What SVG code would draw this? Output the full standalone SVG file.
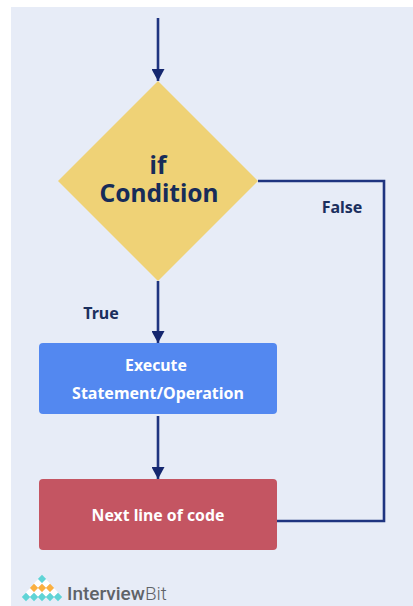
<svg xmlns="http://www.w3.org/2000/svg" width="413" height="606" viewBox="0 0 413 606">
<style>
text{font-family:"Noto Sans","Open Sans",sans-serif;font-weight:700;text-anchor:middle}
.w{fill:#fff;font-size:15.8px}.l{fill:#1b2f5e;font-size:16px}
.m{fill:#172c59;font-size:24.500px}
.c{fill:none;stroke:#1f3480;stroke-width:2.6}
.t{fill:#5fd4d6}.o{fill:#fbb040}.e{fill:#fff}
.b{fill:#5f6368;font-size:19px;text-anchor:start;font-family:Roboto,"Noto Sans",sans-serif;font-weight:500}
</style>
<defs>
<marker id="a" markerUnits="userSpaceOnUse" markerWidth="12" markerHeight="13" refX="12" refY="6.500" orient="auto"><path d="M0 0L12 6.500L0 13Z" fill="#15276f"/></marker>
<path id="p" d="M0-4.200L4.200 0L0 4.200L-4.200 0Z"/>
</defs>
<rect x="11" y="7" width="402" height="599" fill="#e7ecf7"/>
<g id="connectors">
<path class="c" d="M158 18V81" marker-end="url(#a)"/>
<path class="c" d="M158 281V343" marker-end="url(#a)"/>
<path class="c" d="M158 416V479" marker-end="url(#a)"/>
<path class="c" d="M258 181H384V521H277"/>
</g>
<g id="decision"><path d="M158 81L258 181L158 281L58 181Z" fill="#efd276"/>
<text class="m" x="158" y="174">if</text>
<text class="m" x="159" y="202">Condition</text></g>
<g id="execute"><rect x="39" y="343" width="238" height="71" rx="4" fill="#5388f0"/>
<text class="w" x="156" y="371">Execute</text>
<text class="w" x="158" y="399" style="font-size:16px">Statement/Operation</text></g>
<g id="next"><rect x="39" y="479" width="238" height="71" rx="4" fill="#c45562"/>
<text class="w" x="158" y="521">Next line of code</text></g>
<g id="label-true"><text class="l" x="101" y="319">True</text></g>
<g id="label-false"><text class="l" x="342" y="213">False</text></g>
<g id="logo">
<use href="#p" class="t" x="42" y="579"/>
<use href="#p" class="e" x="38" y="583.500"/><use href="#p" class="e" x="46" y="583.500"/>
<use href="#p" class="o" x="34" y="588"/><use href="#p" class="o" x="42" y="588"/><use href="#p" class="o" x="50" y="588"/>
<use href="#p" class="e" x="30" y="592.500"/><use href="#p" class="e" x="38" y="592.500"/><use href="#p" class="e" x="46" y="592.500"/><use href="#p" class="e" x="54" y="592.500"/>
<use href="#p" class="t" x="26" y="597"/><use href="#p" class="t" x="34" y="597"/><use href="#p" class="t" x="42" y="597"/><use href="#p" class="t" x="50" y="597"/><use href="#p" class="t" x="58" y="597"/>
<text class="b" x="67" y="600">Interview<tspan style="font-weight:300">Bit</tspan></text>
</g>
</svg>
